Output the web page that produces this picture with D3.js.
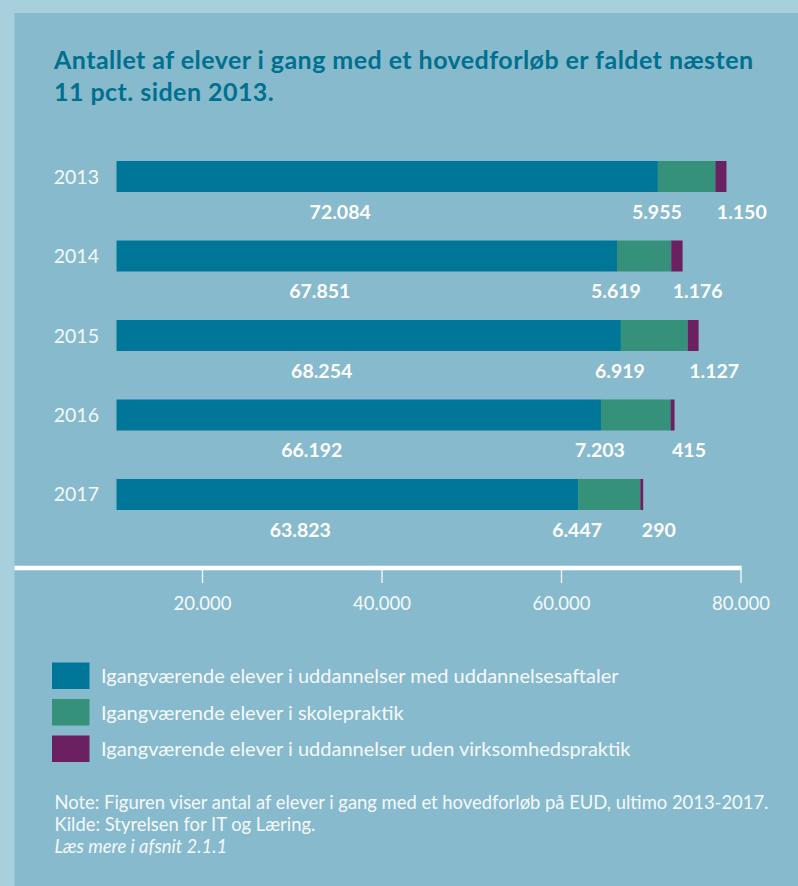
<!DOCTYPE html>
<html>
<head>
<meta charset="utf-8">
<script src="https://cdn.jsdelivr.net/npm/d3@7"></script>
<style>
  html, body { margin: 0; padding: 0; background: #a8cfdc; }
  svg { display: block; font-family: Lato, "Open Sans", sans-serif; }
</style>
</head>
<body>
<svg id="chart" width="798" height="886"></svg>
<script>
// ---- data ----
const years = ["2013", "2014", "2015", "2016", "2017"];
const aftaler = [72084, 67851, 68254, 66192, 63823];
const skolepraktik = [5955, 5619, 6919, 7203, 6447];
const udenPraktik = [1150, 1176, 1127, 415, 290];
const seriesNames = [
  "Igangværende elever i uddannelser med uddannelsesaftaler",
  "Igangværende elever i skolepraktik",
  "Igangværende elever i uddannelser uden virksomhedspraktik"
];
const axisTicks = [20000, 40000, 60000, 80000];
const titleLines = [
  "Antallet af elever i gang med et hovedforløb er faldet næsten",
  "11 pct. siden 2013."
];
const noteLines = [
  "Note: Figuren viser antal af elever i gang med et hovedforløb på EUD, ultimo 2013-2017.",
  "Kilde: Styrelsen for IT og Læring."
];
const moreLine = "Læs mere i afsnit 2.1.1";

const colors = ["#007699", "#35917a", "#6a2061"];
const fmt = v => d3.format(",")(v).replace(/,/g, ".");

const svg = d3.select("#chart");

// background panel
svg.append("rect").attr("x", 0).attr("y", 0).attr("width", 798).attr("height", 886).attr("fill", "#a8cfdc");
svg.append("rect").attr("x", 14.5).attr("y", 13).attr("width", 798).attr("height", 886).attr("fill", "#88bacd");

// title
svg.append("g").selectAll("text").data(titleLines).join("text")
  .attr("x", 54).attr("y", (d, i) => 69 + i * 32)
  .attr("fill", "#00708f").attr("font-weight", 700).attr("font-size", 25)
  .attr("letter-spacing", 0.45)
  .text(d => d);

// stacked data
const rows = years.map((y, i) => {
  const vals = [aftaler[i], skolepraktik[i], udenPraktik[i]];
  let acc = 0;
  return { year: y, segs: vals.map((v, k) => { const s = { k, v, x0: acc, x1: acc + v }; acc += v; return s; }) };
});

// scales
const xAxisScale = d3.scaleLinear().domain([0, 80000]).range([22.5, 740.5]);
const xBar = d3.scaleLinear().domain([0, 80000]).range([-38.1, 734.3]);
const yBand = d3.scaleBand().domain(years).range([161, 510]).paddingInner(0.61).paddingOuter(0);

// clip bars at plot left
svg.append("clipPath").attr("id", "plotclip")
  .append("rect").attr("x", 116.5).attr("y", 0).attr("width", 700).attr("height", 886);

const gBars = svg.append("g").attr("clip-path", "url(#plotclip)");
gBars.selectAll("g").data(rows).join("g")
  .selectAll("rect").data(d => d.segs.map(s => ({ ...s, year: d.year }))).join("rect")
  .attr("x", d => xBar(d.x0))
  .attr("y", d => yBand(d.year))
  .attr("width", d => Math.max(0, xBar(d.x1) - xBar(d.x0)))
  .attr("height", yBand.bandwidth())
  .attr("fill", d => colors[d.k]);

// year labels
svg.append("g").selectAll("text").data(years).join("text")
  .attr("x", 99).attr("y", d => yBand(d) + yBand.bandwidth() / 2 + 7)
  .attr("text-anchor", "end").attr("fill", "#f4f9fb").attr("font-size", 19.5)
  .text(d => d);

// value labels
const gLab = svg.append("g").attr("fill", "#ffffff").attr("font-weight", 700).attr("font-size", 19.5);
rows.forEach(r => {
  const yb = yBand(r.year) + 58;
  const [a, b, c] = r.segs;
  gLab.append("text").attr("x", (xAxisScale(0) + xBar(a.x1)) / 2).attr("y", yb)
    .attr("text-anchor", "middle").text(fmt(a.v));
  gLab.append("text").attr("x", xBar(b.x0) - 1).attr("y", yb)
    .attr("text-anchor", "middle").text(fmt(b.v));
  gLab.append("text").attr("x", xBar(c.x0) + 1.5).attr("y", yb)
    .attr("text-anchor", "start").text(fmt(c.v));
});

// axis
const axisY = 568;
svg.append("line").attr("x1", 14.5).attr("x2", xAxisScale(80000) + 1)
  .attr("y1", axisY).attr("y2", axisY).attr("stroke", "#ffffff").attr("stroke-width", 4.5);
const gAxis = svg.append("g").attr("transform", `translate(0,${axisY})`)
  .call(d3.axisBottom(xAxisScale).tickValues(axisTicks).tickSize(15).tickPadding(14).tickFormat(fmt));
gAxis.select(".domain").remove();
gAxis.selectAll(".tick line").attr("stroke", "#f4f9fb").attr("stroke-width", 1.3);
gAxis.selectAll(".tick text").attr("fill", "#f4f9fb").attr("font-size", 18.5)
  .attr("font-family", "Lato, sans-serif").attr("dy", "0.71em");

// legend
const gLeg = svg.append("g");
seriesNames.forEach((name, i) => {
  const y = 662.5 + i * 36.5;
  gLeg.append("rect").attr("x", 52).attr("y", y).attr("width", 37.5).attr("height", 26.5).attr("fill", colors[i]);
  gLeg.append("text").attr("x", 101).attr("y", y + 20.5).attr("fill", "#f4f9fb").attr("font-size", 20).text(name);
});

// notes
const gNote = svg.append("g").attr("fill", "#f4f9fb").attr("font-size", 18.4);
noteLines.forEach((t, i) => {
  gNote.append("text").attr("x", 54.5).attr("y", 809 + i * 21.5).text(t);
});
gNote.append("text").attr("x", 54.5).attr("y", 852.5).attr("font-style", "italic").text(moreLine);
</script>
</body>
</html>
